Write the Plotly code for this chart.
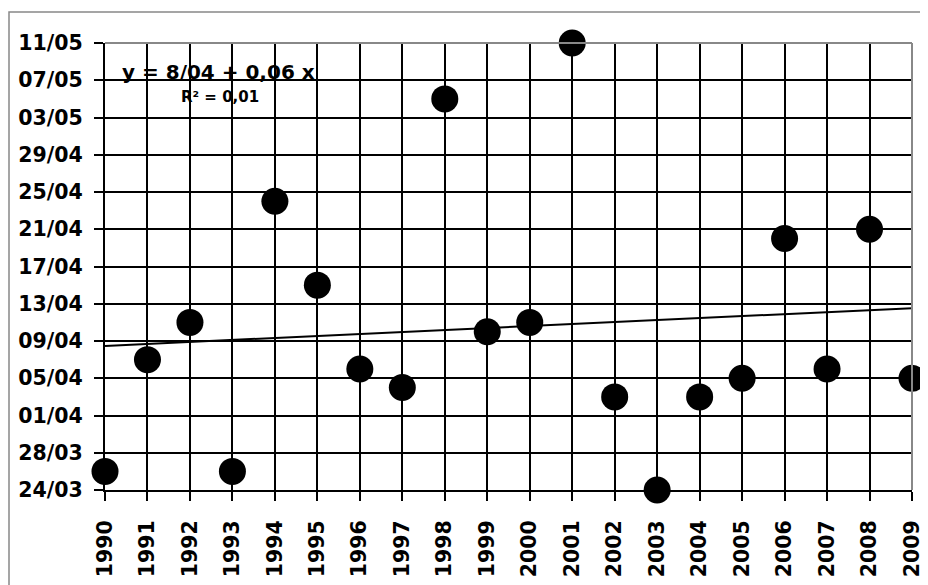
import datetime as dt
import numpy as np
import plotly.graph_objects as go

years = list(range(1990, 2010))
dates = ["26/03", "07/04", "11/04", "26/03", "24/04", "15/04", "06/04", "04/04", "05/05", "10/04",
         "11/04", "11/05", "03/04", "24/03", "03/04", "05/04", "20/04", "06/04", "21/04", "05/04"]
tick_labels = ["24/03", "28/03", "01/04", "05/04", "09/04", "13/04", "17/04", "21/04", "25/04",
               "29/04", "03/05", "07/05", "11/05"]
eq_text = "y = 8/04 + 0,06 x"
r2_text = "R² = 0,01"

BASE = dt.date(2001, 1, 1)


def to_day(s):
    d, m = s.split("/")
    return (dt.date(2001, int(m), int(d)) - BASE).days


y_days = [to_day(s) for s in dates]
tick_days = [to_day(s) for s in tick_labels]

slope, intercept = np.polyfit(years, y_days, 1)
trend_x = [years[0], years[-1]]
trend_y = [intercept + slope * x for x in trend_x]

FONT = "DejaVu Sans"
# page offset of 8px (body margin) is compensated in the margins
OFF = 8
L, T = 105 - OFF, 43 - OFF
PW, PH = 807, 447

fig = go.Figure()
fig.add_trace(go.Scatter(x=years, y=y_days, mode="markers",
                         marker=dict(size=27, color="black"), cliponaxis=False,
                         showlegend=False, hoverinfo="skip"))
fig.add_trace(go.Scatter(x=trend_x, y=trend_y, mode="lines",
                         line=dict(color="black", width=2), showlegend=False))


def px_x(p):
    return (p - 105) / PW


def px_y(p):
    return (490 - p) / PH


fig.update_layout(
    width=928 - OFF, height=585 - OFF,
    margin=dict(l=L, r=16, t=T, b=95),
    paper_bgcolor="white", plot_bgcolor="white",
    font=dict(family=FONT, color="black"),
    xaxis=dict(range=[years[0], years[-1]], tickmode="array", tickvals=years,
               ticktext=[str(y) for y in years], tickangle=-90,
               tickfont=dict(size=20.5, family=FONT, weight="bold"),
               ticks="outside", ticklen=9, tickwidth=2, tickcolor="black",
               showgrid=True, gridcolor="black", gridwidth=2,
               showline=True, linecolor="black", linewidth=2,
               zeroline=False, ticklabelstandoff=11, automargin=False),
    yaxis=dict(range=[tick_days[0], tick_days[-1]], tickmode="array", tickvals=tick_days,
               ticktext=tick_labels,
               tickfont=dict(size=20.5, family=FONT, weight="bold"),
               ticks="outside", ticklen=9, tickwidth=2, tickcolor="black",
               showgrid=True, gridcolor="black", gridwidth=2,
               showline=True, linecolor="black", linewidth=2,
               zeroline=False, ticklabelstandoff=7, automargin=False),
    shapes=[
        dict(type="line", xref="paper", yref="paper", x0=0, x1=1, y0=1, y1=1,
             line=dict(color="#888888", width=2), layer="above"),
        dict(type="line", xref="paper", yref="paper", x0=1, x1=1, y0=0, y1=1,
             line=dict(color="#888888", width=2), layer="above"),
        dict(type="rect", xref="paper", yref="paper", x0=px_x(9), x1=1.2,
             y0=-0.4, y1=px_y(12), line=dict(color="#888888", width=1.5),
             layer="below"),
    ],
    annotations=[
        dict(text=eq_text, xref="paper", yref="paper", x=px_x(120), y=px_y(72),
             xanchor="left", yanchor="middle", showarrow=False,
             font=dict(size=20, family=FONT, weight="bold", color="black")),
        dict(text=r2_text, xref="paper", yref="paper", x=px_x(179), y=px_y(97),
             xanchor="left", yanchor="middle", showarrow=False,
             font=dict(size=15, family=FONT, weight="bold", color="black")),
    ],
)

fig.write_html("out.html")
